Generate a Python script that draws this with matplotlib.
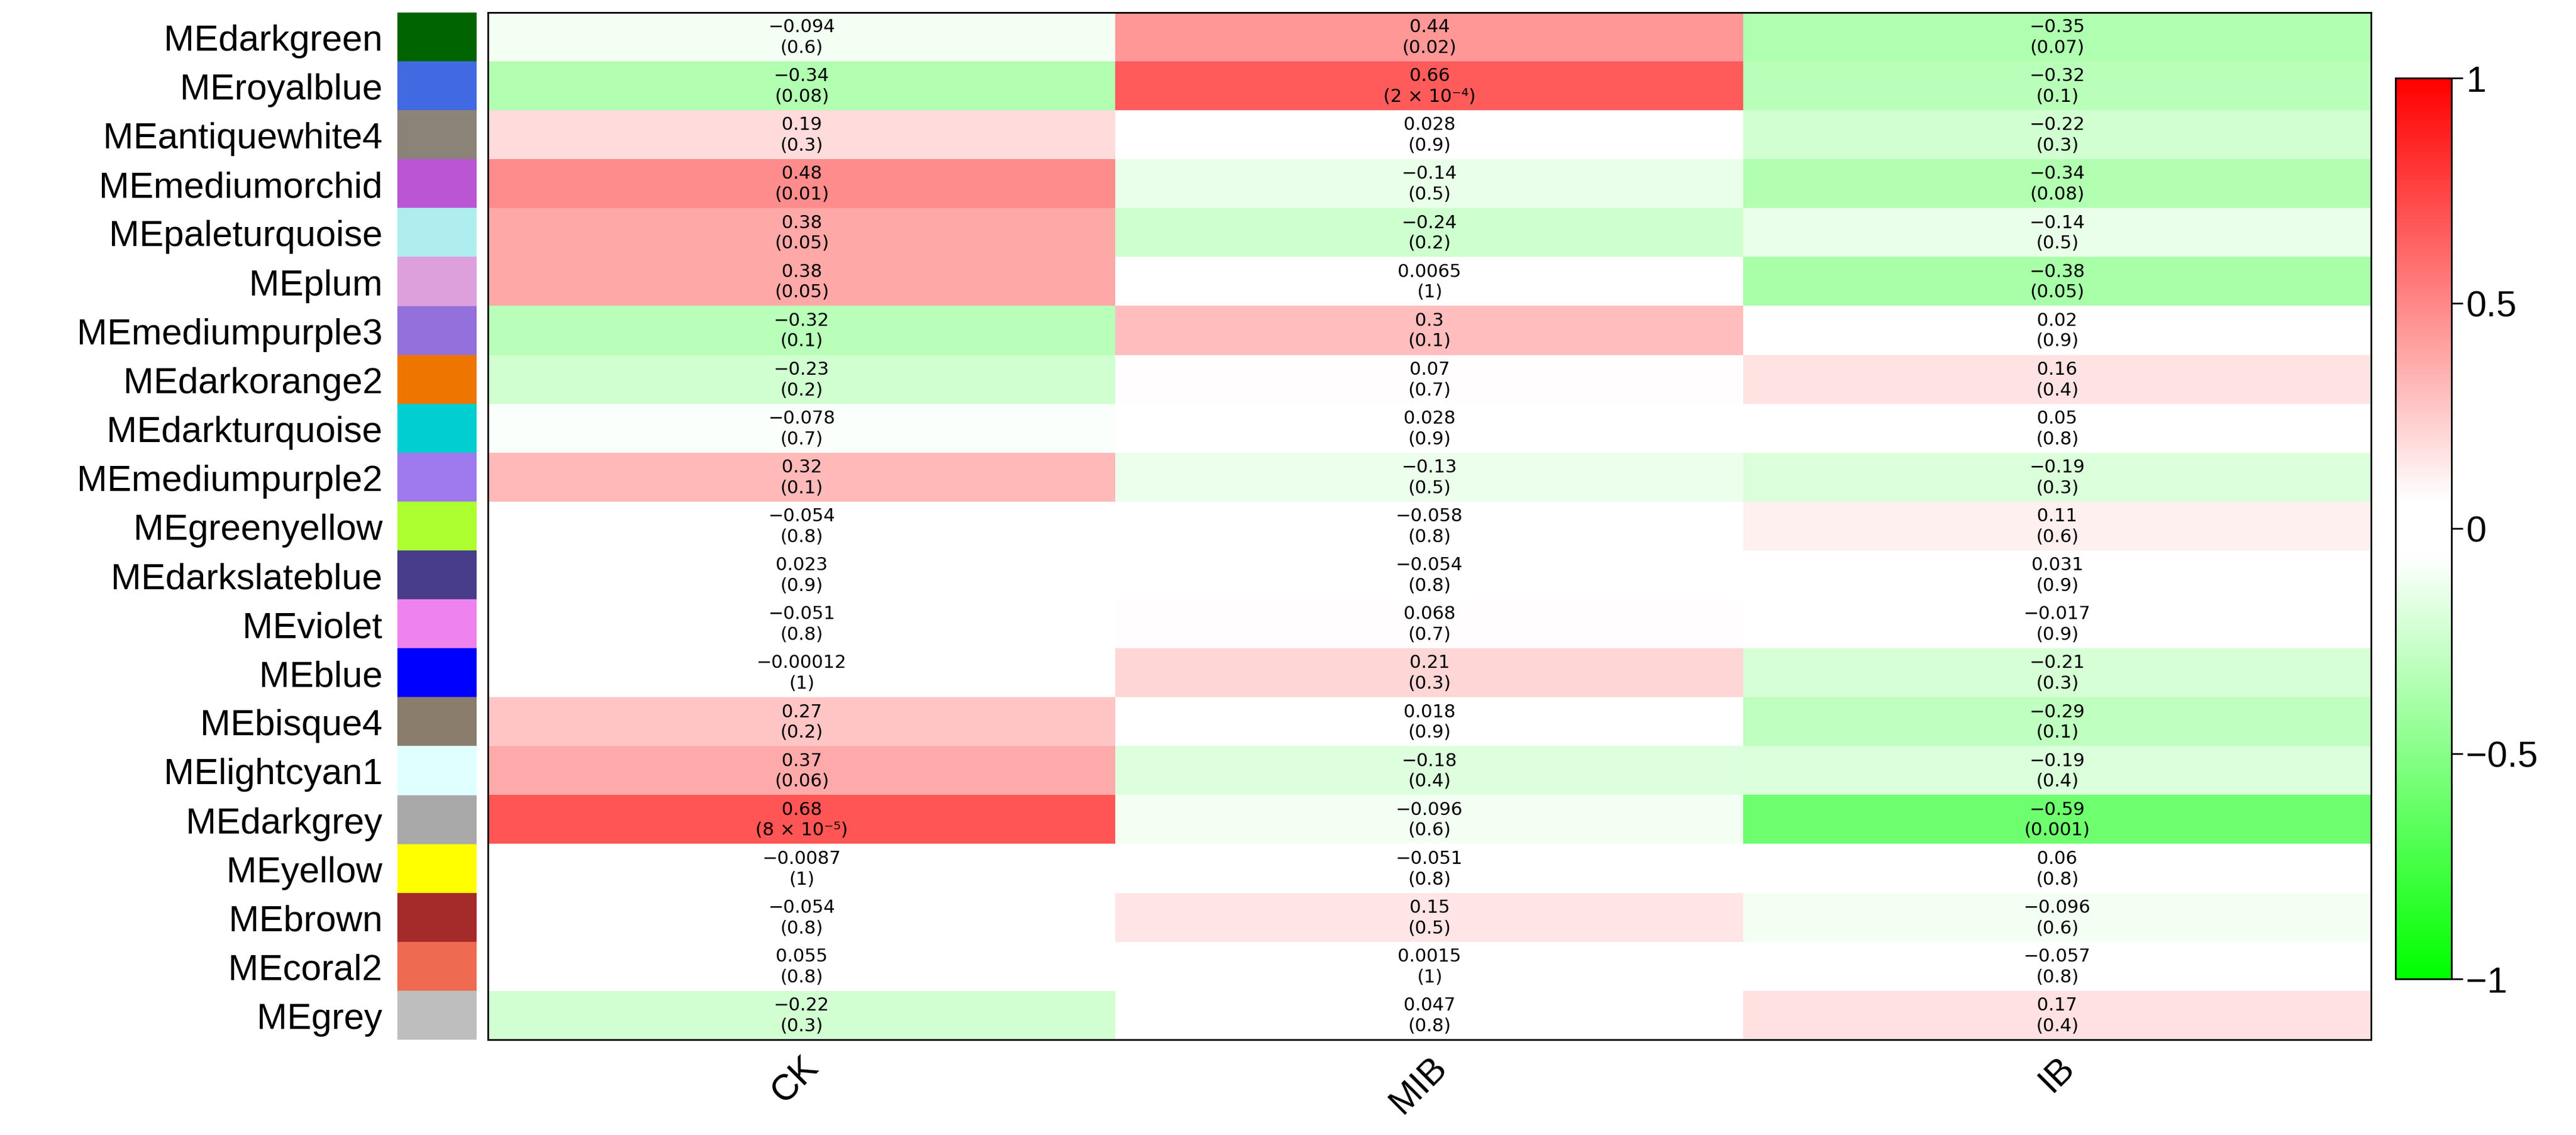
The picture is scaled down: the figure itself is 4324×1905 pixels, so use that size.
import matplotlib.pyplot as plt
import numpy as np
from matplotlib.colors import LinearSegmentedColormap

# module names, colours and trait correlations
modules = ['MEdarkgreen', 'MEroyalblue', 'MEantiquewhite4', 'MEmediumorchid', 'MEpaleturquoise',
           'MEplum', 'MEmediumpurple3', 'MEdarkorange2', 'MEdarkturquoise', 'MEmediumpurple2',
           'MEgreenyellow', 'MEdarkslateblue', 'MEviolet', 'MEblue', 'MEbisque4', 'MElightcyan1',
           'MEdarkgrey', 'MEyellow', 'MEbrown', 'MEcoral2', 'MEgrey']
module_colors = ['darkgreen', 'royalblue', '#8b8378', 'mediumorchid', 'paleturquoise',
                 'plum', 'mediumpurple', '#ee7600', 'darkturquoise', '#9f79ee',
                 'greenyellow', 'darkslateblue', 'violet', 'blue', '#8b7d6b', '#e0ffff',
                 'darkgrey', 'yellow', 'brown', '#ee6a50', '#bebebe']
traits = ['CK', 'MIB', 'IB']

cor = [
    ['−0.094', '0.44', '−0.35'],
    ['−0.34', '0.66', '−0.32'],
    ['0.19', '0.028', '−0.22'],
    ['0.48', '−0.14', '−0.34'],
    ['0.38', '−0.24', '−0.14'],
    ['0.38', '0.0065', '−0.38'],
    ['−0.32', '0.3', '0.02'],
    ['−0.23', '0.07', '0.16'],
    ['−0.078', '0.028', '0.05'],
    ['0.32', '−0.13', '−0.19'],
    ['−0.054', '−0.058', '0.11'],
    ['0.023', '−0.054', '0.031'],
    ['−0.051', '0.068', '−0.017'],
    ['−0.00012', '0.21', '−0.21'],
    ['0.27', '0.018', '−0.29'],
    ['0.37', '−0.18', '−0.19'],
    ['0.68', '−0.096', '−0.59'],
    ['−0.0087', '−0.051', '0.06'],
    ['−0.054', '0.15', '−0.096'],
    ['0.055', '0.0015', '−0.057'],
    ['−0.22', '0.047', '0.17'],
]
pval = [
    ['0.6', '0.02', '0.07'],
    ['0.08', '2 × 10⁻⁴', '0.1'],
    ['0.3', '0.9', '0.3'],
    ['0.01', '0.5', '0.08'],
    ['0.05', '0.2', '0.5'],
    ['0.05', '1', '0.05'],
    ['0.1', '0.1', '0.9'],
    ['0.2', '0.7', '0.4'],
    ['0.7', '0.9', '0.8'],
    ['0.1', '0.5', '0.3'],
    ['0.8', '0.8', '0.6'],
    ['0.9', '0.8', '0.9'],
    ['0.8', '0.7', '0.9'],
    ['1', '0.3', '0.3'],
    ['0.2', '0.9', '0.1'],
    ['0.06', '0.4', '0.4'],
    ['8 × 10⁻⁵', '0.6', '0.001'],
    ['1', '0.8', '0.8'],
    ['0.8', '0.5', '0.6'],
    ['0.8', '1', '0.8'],
    ['0.3', '0.8', '0.4'],
]

vals = np.array([[float(v.replace('−', '-')) for v in row] for row in cor])
n = len(modules)

# green-white-red with a small white band around zero
cmap = LinearSegmentedColormap.from_list(
    'gwr', [(0, '#00ff00'), (0.47, 'white'), (0.53, 'white'), (1, '#ff0000')])

fig = plt.figure(figsize=(43.24, 19.06), dpi=100)
ax = fig.add_axes([819/4324, 1 - 1746/1906, (3980-819)/4324, (1746-22)/1906])
sax = fig.add_axes([667/4324, 1 - 1746/1906, (800-667)/4324, (1746-22)/1906])
cax = fig.add_axes([4021/4324, 1 - 1644/1906, 94/4324, (1644-132)/1906])

im = ax.imshow(vals, cmap=cmap, vmin=-1, vmax=1, aspect='auto')
for i in range(n):
    for j in range(len(traits)):
        ax.text(j, i, cor[i][j] + '\n(' + pval[i][j] + ')', ha='center', va='center',
                fontsize=22, linespacing=1.25, family=['DejaVu Sans'])
ax.set_yticks([])
ax.set_xticks(range(len(traits)))
ax.set_xticklabels(traits, rotation=45, ha='right', rotation_mode='anchor', fontsize=44,
                   family='Liberation Sans')
ax.tick_params(axis='x', length=0, pad=12)
for s in ax.spines.values():
    s.set_linewidth(2)

# module colour strip
for i, c in enumerate(module_colors):
    sax.add_patch(plt.Rectangle((0, i - 0.5), 1, 1, color=c))
sax.set_xlim(0, 1)
sax.set_ylim(n - 0.5, -0.5)
sax.set_xticks([])
sax.set_yticks(range(n))
sax.set_yticklabels(modules, fontsize=44, family='Liberation Sans')
sax.tick_params(axis='y', length=0, pad=18)
for s in sax.spines.values():
    s.set_visible(False)

cb = fig.colorbar(im, cax=cax, ticks=[-1, -0.5, 0, 0.5, 1])
cb.ax.set_yticklabels(['−1', '−0.5', '0', '0.5', '1'], fontsize=44, family='Liberation Sans')
cb.ax.tick_params(length=14, width=2)
cb.outline.set_linewidth(2)

fig.savefig('out.png', dpi=100)
